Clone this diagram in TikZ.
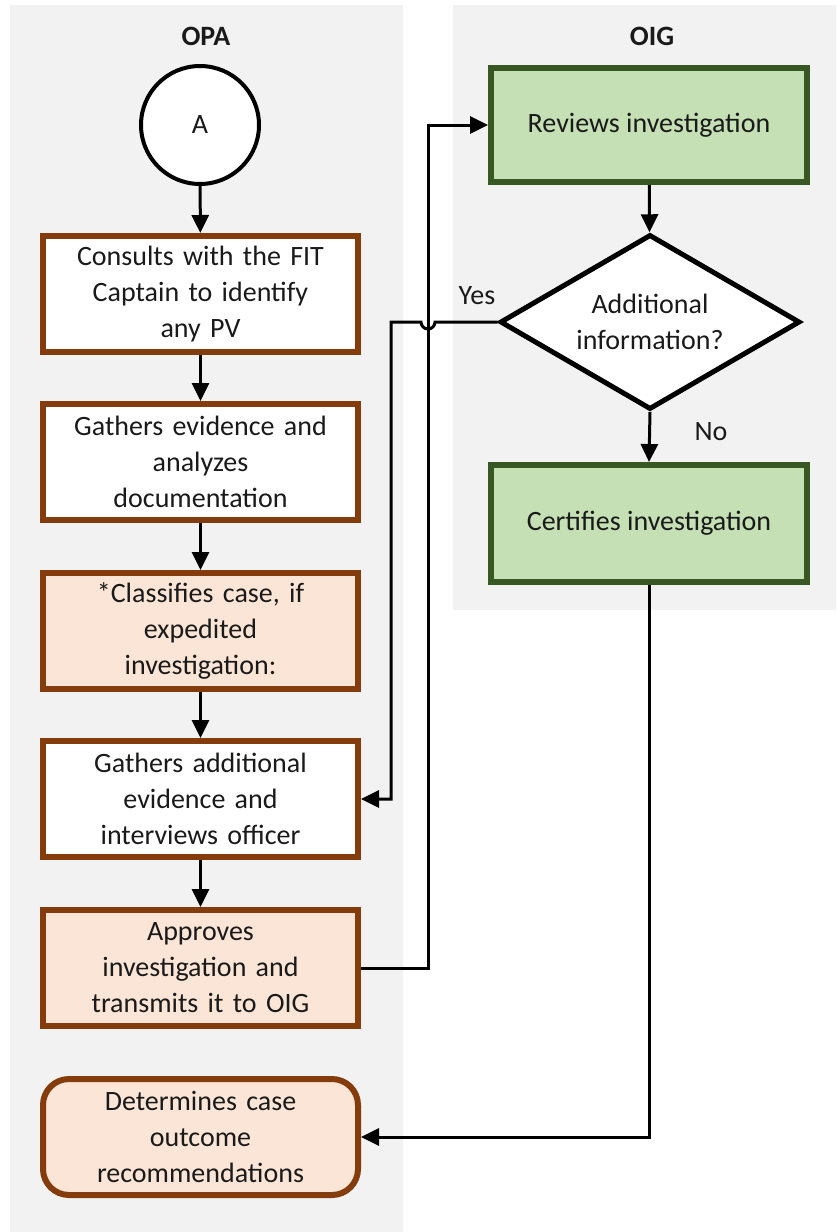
\documentclass[tikz,border=0pt]{standalone}
\usepackage{fontspec}
\setmainfont{Carlito}
\usetikzlibrary{shapes.geometric,arrows.meta}
\definecolor{lanebg}{HTML}{F2F2F2}
\definecolor{brownb}{HTML}{843C0C}
\definecolor{peach}{HTML}{FBE5D6}
\definecolor{greenf}{HTML}{C5E0B4}
\definecolor{greenb}{HTML}{385723}
\definecolor{txt}{HTML}{1A1A1A}
\tikzset{
  lane/.style={fill=lanebg,draw=none},
  opabox/.style={draw=brownb,line width=6pt,minimum width=315pt,minimum height=116pt,align=center,text=txt,font=\fontsize{28}{36}\selectfont,inner sep=0pt,text width=305pt},
  whitebox/.style={opabox,fill=white},
  peachbox/.style={opabox,fill=peach},
  greenbox/.style={draw=greenb,fill=greenf,line width=6pt,minimum width=316pt,align=center,text=txt,font=\fontsize{28}{36}\selectfont,inner sep=0pt},
  arr/.style={line width=3pt,-{Triangle[length=18pt,width=17pt]}},
  head/.style={font=\fontsize{28}{32}\selectfont\bfseries,text=txt},
  lbl/.style={font=\fontsize{28}{32}\selectfont,text=txt}
}
\begin{document}
\begin{tikzpicture}[x=1pt,y=-1pt]
\useasboundingbox (0,0) rectangle (836,1232);
\fill[white] (0,0) rectangle (836,1232);
\fill[lane] (10,5) rectangle (403,1232);
\fill[lane] (453,5) rectangle (836,610);
\node[head] (hopa) at (206,36) {OPA};
\node[head] (hoig) at (652,36) {OIG};
\node[circle,draw=black,fill=white,line width=4pt,minimum size=118pt,inner sep=0pt,lbl] (A) at (200,125) {A};
\node[whitebox] (consult) at (200.5,294) {Consults with the FIT\\Captain to identify\\any PV};
\node[whitebox] (gather) at (200.5,462) {Gathers evidence and\\analyzes\\documentation};
\node[peachbox] (classify) at (200.5,631) {*Classifies case, if\\expedited\\investigation:};
\node[whitebox] (addl) at (200.5,799) {Gathers additional\\evidence and\\interviews officer};
\node[peachbox] (approve) at (200.5,968) {Approves\\investigation and\\transmits it to OIG};
\node[peachbox,rounded corners=26pt] (determine) at (200.5,1137) {Determines case\\outcome\\recommendations};
\node[greenbox,minimum height=114pt] (review) at (649,125) {Reviews investigation};
\node[diamond,draw=black,fill=white,line width=5pt,minimum width=300pt,minimum height=175pt,inner sep=0pt,aspect=1.7,align=center,font=\fontsize{28}{36}\selectfont,text=txt] (dec) at (650,322) {Additional\\information?};
\node[greenbox,minimum height=117pt] (certify) at (649,523.5) {Certifies investigation};
\node[lbl] (yes) at (477,296) {Yes};
\node[lbl] (no) at (711,432) {No};
\coordinate (busx) at (428,0);
\coordinate (yesx) at (391,0);
\draw[arr] (A) -- (consult);
\draw[arr] (consult) -- (gather);
\draw[arr] (gather) -- (classify);
\draw[arr] (classify) -- (addl);
\draw[arr] (addl) -- (approve);
\draw[arr] (approve.east) -- (approve.east -| busx) |- (review.west);
\draw[arr] (review) -- (dec);
\draw[arr] (dec.south) -- (certify.north);
\draw[arr] (dec.west) -- (435,322) arc[start angle=0,end angle=180,radius=7] -- (dec.west -| yesx) |- (addl.east);
\draw[arr] (certify.south) |- (determine.east);
\end{tikzpicture}
\end{document}
